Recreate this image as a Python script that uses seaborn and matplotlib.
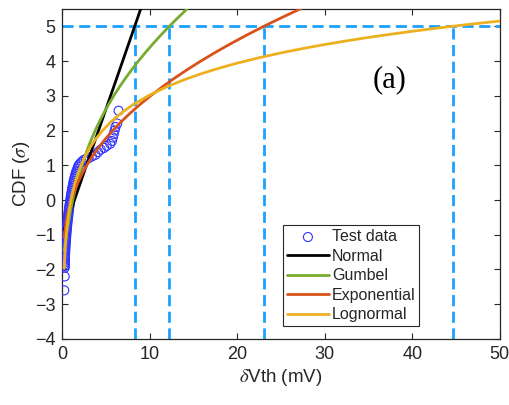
import numpy as np
import pandas as pd
import matplotlib
matplotlib.use("Agg")
import matplotlib.pyplot as plt
import seaborn as sns

# Measured threshold-voltage shifts (mV) and their normal quantiles (sigma)
test_dvth = [0.25, 0.30, 0.30,
             0.30, 0.305, 0.31, 0.315, 0.32, 0.325, 0.33, 0.34, 0.35, 0.36,
             0.37, 0.38, 0.39, 0.405, 0.42, 0.435, 0.45, 0.465, 0.48, 0.495,
             0.51, 0.53, 0.55, 0.57, 0.59, 0.61, 0.63, 0.655, 0.68, 0.70,
             0.72, 0.745, 0.77, 0.795, 0.82, 0.85, 0.88, 0.91, 0.94, 0.97,
             1.00, 1.035, 1.07, 1.105, 1.14, 1.175, 1.21, 1.25, 1.29, 1.335,
             1.38, 1.43, 1.48, 1.54, 1.60, 1.67, 1.74, 1.82, 1.90, 2.05,
             2.25, 2.45,
             2.70, 3.00, 3.40, 3.80, 4.10, 4.40, 4.80, 5.10, 5.50, 5.70,
             5.80, 5.90, 6.00, 6.10, 6.30, 6.45]
test_sigma = [-2.60, -2.20, -1.95,
              -1.90, -1.85, -1.80, -1.75, -1.70, -1.65, -1.60, -1.55, -1.50, -1.45,
              -1.40, -1.35, -1.30, -1.25, -1.20, -1.15, -1.10, -1.05, -1.00, -0.95,
              -0.90, -0.85, -0.80, -0.75, -0.70, -0.65, -0.60, -0.55, -0.50, -0.45,
              -0.40, -0.35, -0.30, -0.25, -0.20, -0.15, -0.10, -0.05, 0.00, 0.05,
              0.10, 0.15, 0.20, 0.25, 0.30, 0.35, 0.40, 0.45, 0.50, 0.55,
              0.60, 0.65, 0.70, 0.75, 0.80, 0.85, 0.90, 0.95, 1.00, 1.05,
              1.10, 1.15,
              1.18, 1.20, 1.25, 1.30, 1.38, 1.45, 1.50, 1.56, 1.62, 1.70,
              1.80, 1.90, 2.00, 2.10, 2.20, 2.57]

# Fitted distributions, expressed as CDF in sigma units
normal_dvth = [0.23, 1.41, 4.16, 6.92, 8.98]
normal_sigma = [-0.86, 0.00, 2.00, 4.00, 5.50]

gumbel_dvth = [0.230, 0.342, 0.492, 0.654, 0.829, 1.018, 1.225, 1.451, 1.698,
               1.969, 2.267, 2.595, 2.954, 3.348, 3.779, 4.249, 4.759, 5.311,
               5.905, 6.543, 7.224, 7.950, 8.720, 9.534, 10.394, 11.299,
               12.249, 13.244, 14.284]
gumbel_sigma = [-1.45, -1.25, -1.00, -0.75, -0.50, -0.25, 0.00, 0.25, 0.50,
                0.75, 1.00, 1.25, 1.50, 1.75, 2.00, 2.25, 2.50, 2.75,
                3.00, 3.25, 3.50, 3.75, 4.00, 4.25, 4.50, 4.75,
                5.00, 5.25, 5.50]

expo_dvth = [0.231, 0.264, 0.393, 0.564, 0.785, 1.061, 1.397, 1.799, 2.271,
             2.816, 3.439, 4.140, 4.923, 5.788, 6.739, 7.775, 8.898, 10.110,
             11.410, 12.800, 14.281, 15.851, 17.512, 19.266, 21.112, 23.049,
             25.080, 27.202]
expo_sigma = [-1.08, -1.00, -0.75, -0.50, -0.25, 0.00, 0.25, 0.50, 0.75,
              1.00, 1.25, 1.50, 1.75, 2.00, 2.25, 2.50, 2.75, 3.00,
              3.25, 3.50, 3.75, 4.00, 4.25, 4.50, 4.75, 5.00,
              5.25, 5.50]

logn_dvth = [0.23, 0.271, 0.328, 0.396, 0.478, 0.578, 0.698, 0.843, 1.018,
             1.23, 1.486, 1.795, 2.17, 2.62, 3.16, 3.82, 4.62, 5.58, 6.74,
             8.14, 10.0, 12.0, 14.0, 16.0, 18.0, 20.0, 22.5, 25.0, 27.5,
             30.0, 32.5, 35.0, 37.5, 40.0, 42.5, 45.0, 47.5, 50.0]
logn_sigma = [-1.97, -1.75, -1.50, -1.25, -1.00, -0.75, -0.50, -0.25, 0.00,
              0.25, 0.50, 0.75, 1.00, 1.25, 1.50, 1.75, 2.00, 2.25, 2.50,
              2.75, 3.022, 3.263, 3.467, 3.644, 3.799, 3.939, 4.095, 4.234, 4.360,
              4.475, 4.581, 4.679, 4.770, 4.856, 4.936, 5.012, 5.083, 5.151]

# dVth at the 5-sigma level for each fit
target_sigma = 5.0
dvth_at_target = [8.30, 12.25, 23.05, 44.60]

x_ticks = [0, 10, 20, 30, 40, 50]
y_ticks = [-4, -3, -2, -1, 0, 1, 2, 3, 4, 5]

sns.set_theme(style="ticks")
plt.rcParams["font.family"] = ["Liberation Sans", "DejaVu Sans"]
plt.rcParams["mathtext.fontset"] = "stix"

fig = plt.figure(figsize=(5.09, 4.05), dpi=100)
ax = fig.add_axes([0.122, 0.163, 0.860, 0.815])

xmin, xmax, ymin, ymax = 0, 50, -4, 5.5

guide_color = "#1BA1FF"
guide_kw = dict(color=guide_color, lw=2.0, dashes=(4, 2.0), zorder=1)
ax.plot([xmin, xmax], [target_sigma, target_sigma], **guide_kw)
for xv in dvth_at_target:
    ax.plot([xv, xv], [ymin, target_sigma], **guide_kw)

sns.scatterplot(x=test_dvth, y=test_sigma, ax=ax, marker="o", s=42,
                facecolors="none", edgecolor="#3333FF", linewidth=0.8,
                label="Test data", zorder=3)

fits = [
    ("Normal", normal_dvth, normal_sigma, "#000000"),
    ("Gumbel", gumbel_dvth, gumbel_sigma, "#77AC30"),
    ("Exponential", expo_dvth, expo_sigma, "#D95319"),
    ("Lognormal", logn_dvth, logn_sigma, "#EDB120"),
]
for name, xs, ys, col in fits:
    df = pd.DataFrame({"x": xs, "y": ys})
    sns.lineplot(data=df, x="x", y="y", ax=ax, color=col, lw=2.0,
                 label=name, sort=False, estimator=None, zorder=4)

ax.set_xlim(xmin, xmax)
ax.set_ylim(ymin, ymax)
ax.set_xticks(x_ticks)
ax.set_yticks(y_ticks)
ax.tick_params(direction="in", top=True, right=True, length=4, width=0.8,
               labelsize=13, colors="#262626", pad=5)
for sp in ax.spines.values():
    sp.set_visible(True)
    sp.set_linewidth(0.9)
    sp.set_color("#262626")

ax.set_xlabel(r"$\delta$Vth (mV)", fontsize=13.5, color="#262626", labelpad=3)
ax.set_ylabel(r"CDF ($\sigma$)", fontsize=13.5, color="#262626", labelpad=2)

ax.text(37.4, 3.45, "(a)", fontsize=22, family="Liberation Serif",
        ha="center", va="center", color="black")

leg = ax.legend(loc="lower left", bbox_to_anchor=(0.505, 0.039),
                fontsize=11.5, frameon=True, fancybox=False,
                edgecolor="#262626", framealpha=1, handlelength=2.6,
                handletextpad=0.2, labelspacing=0.28, borderpad=0.25,
                borderaxespad=0)
leg.get_frame().set_linewidth(0.8)

fig.savefig("out.png", dpi=100)
